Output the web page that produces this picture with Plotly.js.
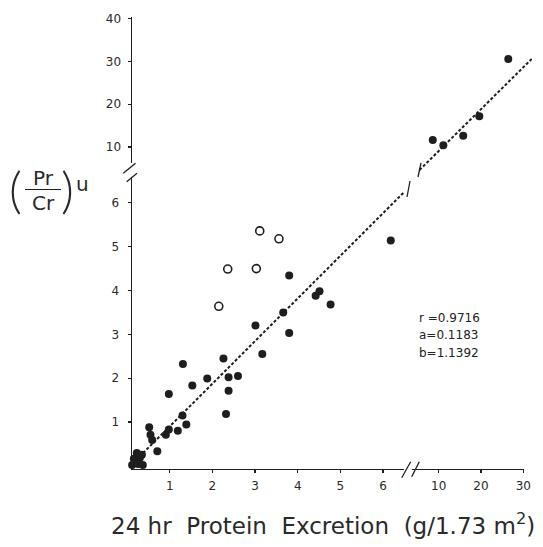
<!DOCTYPE html>
<html>
<head>
<meta charset="utf-8">
<script src="https://cdn.plot.ly/plotly-3.0.1.min.js"></script>
<style>html,body{margin:0;padding:0;background:#fff;}#chart{width:543px;height:547px;}</style>
</head>
<body>
<div id="chart"></div>
<script>
// ---- data ----
// lower panel (0–6.5 on both axes), filled circles
const lowFilledX = [0.09,0.23,0.35,0.16,0.30,0.12,0.26,0.37,0.71,0.59,0.55,0.52,0.91,0.98,1.19,1.39,1.30,0.98,1.31,1.53,1.88,2.32,2.38,2.38,2.60,2.26,3.17,3.01,3.80,3.66,3.80,4.42,4.51,4.77,6.18,6.82];
const lowFilledY = [0.27,0.29,0.25,0.16,0.18,0.02,0.04,0.02,0.33,0.59,0.71,0.88,0.71,0.83,0.80,0.94,1.15,1.64,2.32,1.83,1.99,1.18,1.71,2.02,2.05,2.45,2.55,3.20,3.03,3.50,4.34,3.88,3.98,3.68,5.14,4.55];
// lower panel, open circles
const openX = [2.15,2.36,3.03,3.11,3.56];
const openY = [3.64,4.49,4.50,5.36,5.18];
// upper panel (10–40 / 10–30), filled circles
const upX = [8.6,11.1,15.8,19.6,26.45];
const upY = [11.6,10.4,12.6,17.2,30.6];
// regression line segments (end points)
const trendLowX = [0.375,6.60];
const trendLowY = [0.29,6.35];
const trendUpX = [5.46,31.99];
const trendUpY = [4.59,30.59];
// ticks
const xTicksLow = [1,2,3,4,5,6];
const xTicksHigh = [10,20,30];
const yTicksLow = [1,2,3,4,5,6];
const yTicksHigh = [10,20,30,40];
const statsLines = ["r =0.9716","a=0.1183","b=1.1392"];

const W = 543, H = 547;
const px = v => v / W;
const py = v => 1 - v / H;
const ink = '#1e1e1e';
const tickFont = {family: 'DejaVu Sans, sans-serif', size: 12, color: '#2a2a2a'};

const common = {showgrid:false, zeroline:false, showline:true, linecolor:ink, linewidth:1.5,
  ticks:'outside', ticklen:3, tickwidth:1.2, tickcolor:ink, tickfont:tickFont, fixedrange:true};

const traces = [
  {x: lowFilledX, y: lowFilledY, xaxis:'x', yaxis:'y', mode:'markers', type:'scatter', cliponaxis:false,
   marker:{size:8, color:ink, line:{width:0}}},
  {x: openX, y: openY, xaxis:'x', yaxis:'y', mode:'markers', type:'scatter', cliponaxis:false,
   marker:{size:8, color:'#ffffff', symbol:'circle', line:{width:1.6, color:ink}}},
  {x: trendLowX, y: trendLowY, xaxis:'x', yaxis:'y', mode:'lines', type:'scatter',
   line:{color:ink, width:2, dash:'3px,2px'}},
  {x: upX, y: upY, xaxis:'x2', yaxis:'y2', mode:'markers', type:'scatter', cliponaxis:false,
   marker:{size:8, color:ink, line:{width:0}}},
  {x: trendUpX, y: trendUpY, xaxis:'x3', yaxis:'y3', mode:'lines', type:'scatter',
   line:{color:ink, width:2, dash:'3px,2px'}}
];

const seg = (x0,y0,x1,y1,w) => ({type:'line', xref:'paper', yref:'paper', x0:px(x0), y0:py(y0), x1:px(x1), y1:py(y1), line:{color:ink, width:w||1.5}});

const ann = (text, x, y, size, opts) => Object.assign({text, x:px(x), y:py(y), xref:'paper', yref:'paper', showarrow:false,
  xanchor:'center', yanchor:'middle',
  font:{family:'DejaVu Sans, sans-serif', size:size, color:'#222'}}, opts||{});
const fnt = (fam, size, weight) => ({font:{family:fam, size:size, color:'#2a2a2a', weight:weight||400}});

const layout = {
  width: W, height: H,
  margin: {l:0, r:0, t:0, b:0},
  paper_bgcolor:'#fff', plot_bgcolor:'rgba(0,0,0,0)',
  showlegend:false,
  xaxis: Object.assign({}, common, {domain:[px(132), px(404)], range:[0.117, 6.49], anchor:'y', tickvals:xTicksLow, ticklabelstandoff:3}),
  xaxis2: Object.assign({}, common, {domain:[px(412), px(524)], range:[3.69, 30.17], anchor:'y', tickvals:xTicksHigh, ticklabelstandoff:3}),
  xaxis3: {domain:[px(412), px(532)], range:[3.69, 32.06], anchor:'y3', visible:false, fixedrange:true},
  yaxis: Object.assign({}, common, {domain:[py(468.5), py(177)], range:[-0.062, 6.59], anchor:'x', tickvals:yTicksLow, ticklabelstandoff:6}),
  yaxis2: Object.assign({}, common, {domain:[py(163), py(17)], range:[6.23, 40.42], anchor:'x', tickvals:yTicksHigh, ticklabelstandoff:4}),
  yaxis3: {domain:[py(175), py(17)], range:[3.42, 40.42], anchor:'x3', visible:false, fixedrange:true},
  shapes: [
    // y-axis break
    seg(123.3,173.3,135.5,163.3,1.3), seg(126.7,181.7,137,173.3,1.3),
    // x-axis break
    seg(401.7,477.7,410.7,461.7,1.3), seg(411.7,476.7,419.3,461.7,1.3),
    // regression line break marks
    seg(410,181,407,197,1.3), seg(421,163,418,177,1.3),
    // fraction bar of y label
    seg(25,189.5,61,189.5,1.2)
  ],
  annotations: [
    ann('24 hr  Protein  Excretion  (g/1.73 m<sup>2</sup>)', 323, 524, 23, fnt('DejaVu Sans, sans-serif', 23)),
    ann('Pr', 43, 178, 20, fnt('DejaVu Sans, sans-serif', 20)),
    ann('Cr', 43, 203, 20, fnt('DejaVu Sans, sans-serif', 20)),
    ann('(', 15, 189, 50, fnt('Lato, Liberation Sans, sans-serif', 50, 300)),
    ann(')', 67, 189, 50, fnt('Lato, Liberation Sans, sans-serif', 50, 300)),
    ann('u', 82, 184, 20, fnt('DejaVu Sans, sans-serif', 20)),
    ann(statsLines[0], 417, 318, 12, {xanchor:'left'}),
    ann(statsLines[1], 417, 335, 12, {xanchor:'left'}),
    ann(statsLines[2], 417, 353, 12, {xanchor:'left'})
  ]
};

Plotly.newPlot('chart', traces, layout, {staticPlot:true, displayModeBar:false});
</script>
</body>
</html>
